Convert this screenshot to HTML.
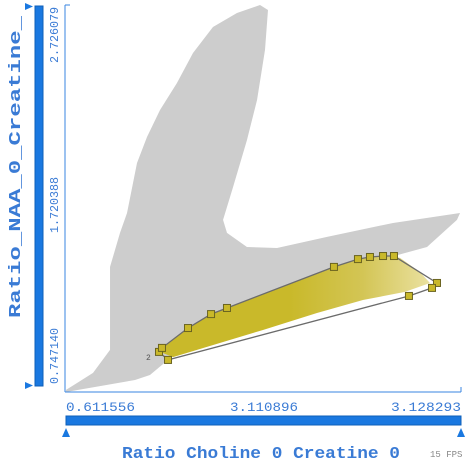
<!DOCTYPE html>
<html><head><meta charset="utf-8"><style>
body{margin:0;background:#fff;width:473px;height:461px;overflow:hidden}
svg{display:block}
text{font-family:"Liberation Mono",monospace}
</style></head><body>
<svg id="c" width="473" height="461">
<defs><linearGradient id="fade" gradientUnits="userSpaceOnUse" x1="290" y1="0" x2="435" y2="0">
<stop offset="0" stop-color="#c9b92a"/><stop offset="0.5" stop-color="#d3c555"/><stop offset="1" stop-color="#ece3a6"/></linearGradient></defs>
<g id="cloud"></g>
<g id="sel"></g>
<g id="poly"></g>
<text x="146" y="360" font-size="8" fill="#555" font-family="Liberation Sans">2</text>
<line x1="65" y1="5" x2="65" y2="392" stroke="#3a86e0" stroke-width="1"/>
<line x1="65" y1="5" x2="70" y2="5" stroke="#3a86e0"/>
<line x1="65" y1="392" x2="461" y2="392" stroke="#3a86e0"/>
<line x1="461" y1="387" x2="461" y2="392" stroke="#3a86e0"/>
<rect x="35" y="6" width="8" height="380" fill="#1a78e0" stroke="#0f5fb8"/>
<polygon points="25,3 33,6.5 25,10" fill="#1a78e0"/>
<polygon points="25,382 33,385.5 25,389" fill="#1a78e0"/>
<rect x="66" y="416" width="395" height="9" fill="#1a78e0" stroke="#0f5fb8"/>
<polygon points="62,437 66,428 70,437" fill="#1a78e0"/>
<polygon points="457,437 461,428 465,437" fill="#1a78e0"/>
<g font-size="12" fill="#3a7bd5">
<text transform="translate(58,63) rotate(-90)" textLength="56" lengthAdjust="spacingAndGlyphs">2.726079</text>
<text transform="translate(58,233) rotate(-90)" textLength="56" lengthAdjust="spacingAndGlyphs">1.720388</text>
<text transform="translate(58,384) rotate(-90)" textLength="56" lengthAdjust="spacingAndGlyphs">0.747140</text>
<text x="66" y="411" font-size="13" textLength="69" lengthAdjust="spacingAndGlyphs">0.611556</text>
<text x="230" y="411" font-size="13" textLength="68" lengthAdjust="spacingAndGlyphs">3.110896</text>
<text x="391" y="411" font-size="13" textLength="70" lengthAdjust="spacingAndGlyphs">3.128293</text>
</g>
<text transform="translate(20,318) rotate(-90)" font-size="17" font-weight="bold" fill="#3a7bd5" textLength="302" lengthAdjust="spacingAndGlyphs">Ratio_NAA_0_Creatine_</text>
<text x="122" y="458" font-size="17" font-weight="bold" fill="#3a7bd5" textLength="278" lengthAdjust="spacingAndGlyphs">Ratio Choline 0 Creatine 0</text>
<text x="430" y="457" font-size="9" fill="#888">15 FPS</text>
</svg>
<script>
const xDomain=[0.611556,3.128293];
const yDomain=[0.747140,2.726079];
// background cloud outline (data units)
const cloudX=[0.612,0.866,1.026,1.026,1.120,1.186,1.280,1.374,1.496,1.656,1.807,1.995,2.221,2.438,2.513,2.485,2.410,2.315,2.184,2.090,2.127,2.315,2.598,3.069,3.690,4.321,4.292,4.010,3.699,3.134,2.127,1.760,1.572,1.402,1.261,0.612];
const cloudY=[0.758,0.847,0.968,1.402,1.580,1.684,1.946,2.082,2.223,2.365,2.522,2.658,2.731,2.773,2.747,2.538,2.276,2.066,1.820,1.648,1.580,1.506,1.501,1.559,1.632,1.684,1.648,1.506,1.459,1.402,1.187,1.082,0.915,0.836,0.810,0.747];
// lasso vertices (data units)
const lassoX=[1.487,1.515,1.760,1.977,2.127,3.134,3.360,3.473,3.596,3.699,4.104,4.057,3.840,1.572];
const lassoY=[0.957,0.978,1.082,1.155,1.187,1.402,1.443,1.454,1.459,1.459,1.318,1.292,1.250,0.915];
// selected points region (data units)
const denseX=[1.496,1.515,1.760,1.977,2.127,3.134,3.360,3.596,3.756,3.944,4.038,3.803,3.407,2.974,2.466,1.619];
const denseY=[0.957,0.978,1.082,1.155,1.187,1.402,1.443,1.464,1.449,1.375,1.318,1.271,1.229,1.161,1.072,0.930];
</script>
<script>
const xMaxVis=4.33, px0=66, px1=461, py0=392, py1=14;
function X(v){return px0+(v-xDomain[0])/(xMaxVis-xDomain[0])*(px1-px0);}
function Y(v){return py0-(v-yDomain[0])/(yDomain[1]-yDomain[0])*(py0-py1);}
const NS="http://www.w3.org/2000/svg";
function pts(a,b){return a.map((v,i)=>X(v)+","+Y(b[i])).join(" ");}
const cloud=document.createElementNS(NS,"polygon");
cloud.setAttribute("points",pts(cloudX,cloudY));
cloud.setAttribute("fill","#cdcdcd");


document.getElementById("cloud").appendChild(cloud);
const dense=document.createElementNS(NS,"polygon");
dense.setAttribute("points",pts(denseX,denseY));
dense.setAttribute("fill","url(#fade)");


document.getElementById("sel").appendChild(dense);
const poly=document.createElementNS(NS,"polygon");
poly.setAttribute("points",pts(lassoX,lassoY));
poly.setAttribute("fill","none");
poly.setAttribute("stroke","#6b6b6b");
poly.setAttribute("stroke-width","1.3");


document.getElementById("poly").appendChild(poly);
lassoX.forEach((v,i)=>{
  const r=document.createElementNS(NS,"rect");
  r.setAttribute("x",X(v)-3.5);r.setAttribute("y",Y(lassoY[i])-3.5);
  r.setAttribute("width",7);r.setAttribute("height",7);
  r.setAttribute("fill","#c9b82a");r.setAttribute("stroke","#6b6420");
  
  
  document.getElementById("poly").appendChild(r);
});
</script>
</body></html>
